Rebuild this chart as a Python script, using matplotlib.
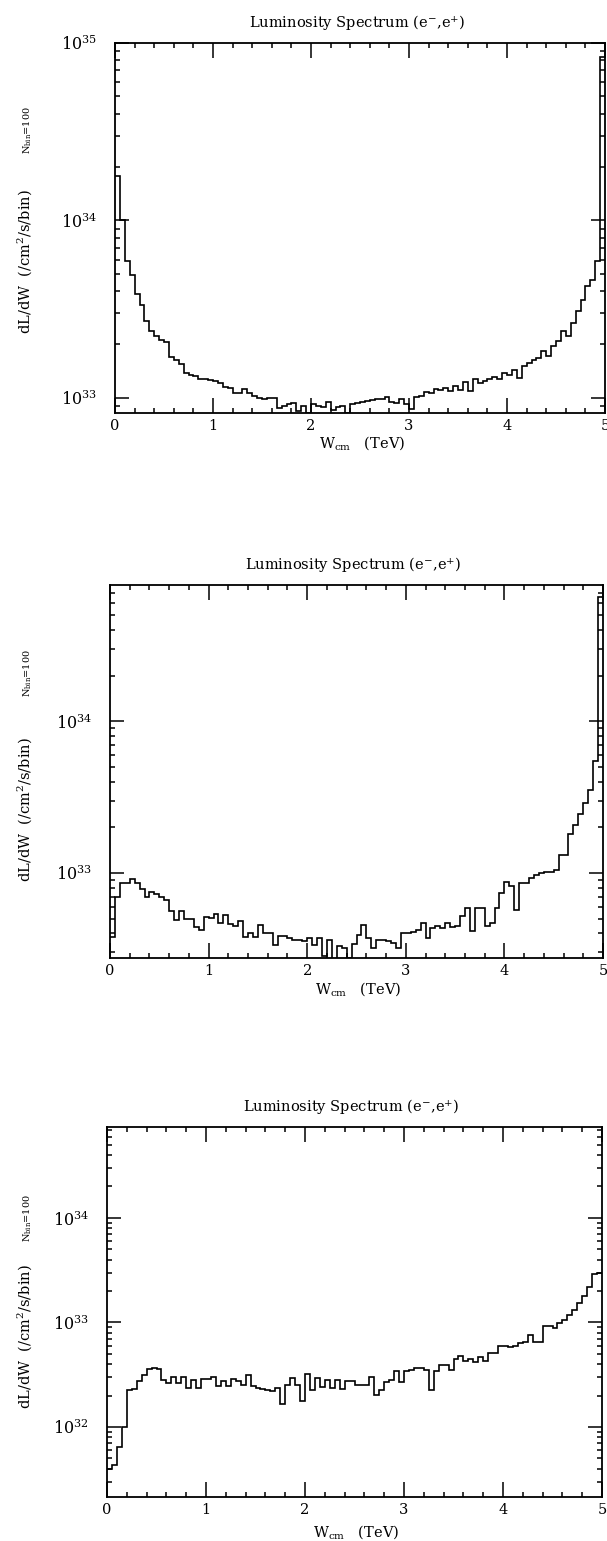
import numpy as np
import matplotlib
matplotlib.use("Agg")
from matplotlib import pyplot as plt
from matplotlib import ticker

W, H = 607, 1541

# bin edges in W_cm (TeV), 100 bins
edges = np.linspace(0, 5, 101)

# dL/dW per bin, in units of 1e33 /cm^2/s/bin
lum_top = [17.9, 10.0, 5.94, 4.92, 3.86, 3.35, 2.73, 2.37, 2.22, 2.13,
           2.07, 1.70, 1.64, 1.56, 1.38, 1.34, 1.33, 1.27, 1.28, 1.26,
           1.24, 1.21, 1.15, 1.13, 1.07, 1.07, 1.12, 1.07, 1.03, 1.00,
           0.98, 0.995, 1.00, 0.88, 0.90, 0.93, 0.935, 0.84, 0.905, 0.82,
           0.93, 0.90, 0.89, 0.945, 0.855, 0.89, 0.905, 0.82, 0.925, 0.935,
           0.953, 0.96, 0.975, 0.99, 0.98, 1.01, 0.945, 0.935, 0.98, 0.93,
           0.87, 1.01, 1.03, 1.08, 1.07, 1.12, 1.11, 1.13, 1.10, 1.17,
           1.11, 1.23, 1.10, 1.27, 1.21, 1.24, 1.28, 1.31, 1.27, 1.38,
           1.34, 1.43, 1.29, 1.52, 1.57, 1.63, 1.68, 1.83, 1.73, 1.95,
           2.08, 2.37, 2.24, 2.66, 3.07, 3.57, 4.25, 4.63, 5.94, 83.4]

lum_mid = [0.38, 0.70, 0.86, 0.86, 0.91, 0.86, 0.78, 0.70, 0.75, 0.73,
           0.70, 0.66, 0.56, 0.49, 0.56, 0.50, 0.50, 0.44, 0.42, 0.51,
           0.505, 0.54, 0.47, 0.53, 0.46, 0.445, 0.48, 0.38, 0.40, 0.38,
           0.456, 0.40, 0.40, 0.337, 0.386, 0.382, 0.373, 0.363, 0.363, 0.354,
           0.373, 0.337, 0.373, 0.282, 0.363, 0.268, 0.328, 0.320, 0.275, 0.342,
           0.392, 0.456, 0.373, 0.320, 0.363, 0.360, 0.354, 0.345, 0.320, 0.402,
           0.402, 0.406, 0.419, 0.468, 0.373, 0.434, 0.445, 0.434, 0.468, 0.440,
           0.445, 0.523, 0.588, 0.412, 0.588, 0.588, 0.445, 0.468, 0.588, 0.738,
           0.868, 0.817, 0.573, 0.859, 0.859, 0.927, 0.975, 1.00, 1.01, 1.01,
           1.05, 1.32, 1.32, 1.80, 2.08, 2.45, 2.89, 3.54, 5.5, 66.7]

lum_bot = [0.040, 0.043, 0.065, 0.101, 0.227, 0.230, 0.273, 0.316, 0.358, 0.366,
           0.358, 0.279, 0.263, 0.304, 0.263, 0.304, 0.235, 0.283, 0.235, 0.287,
           0.287, 0.300, 0.248, 0.273, 0.244, 0.287, 0.273, 0.253, 0.316, 0.244,
           0.235, 0.230, 0.227, 0.219, 0.235, 0.167, 0.253, 0.293, 0.253, 0.179,
           0.323, 0.224, 0.293, 0.240, 0.283, 0.235, 0.283, 0.230, 0.273, 0.273,
           0.253, 0.253, 0.253, 0.304, 0.203, 0.224, 0.267, 0.283, 0.340, 0.267,
           0.340, 0.347, 0.366, 0.366, 0.347, 0.224, 0.340, 0.394, 0.394, 0.347,
           0.446, 0.480, 0.424, 0.446, 0.414, 0.466, 0.424, 0.509, 0.509, 0.598,
           0.589, 0.577, 0.589, 0.634, 0.644, 0.762, 0.644, 0.644, 0.916, 0.916,
           0.883, 0.985, 1.06, 1.18, 1.32, 1.53, 1.80, 2.18, 2.92, 2.97]

# y range (log10) of each panel
ylims = [(32.915, 35.0), (32.44, 34.90), (31.33, 34.87)]

# axes boxes in pixels: left, right, top, bottom
boxes = [(115, 605, 43, 413), (110, 603, 585, 958), (107, 602, 1127, 1497)]
title_y = [23, 565, 1107]
xlab_y = [443, 989, 1532]
ylab_y = [262, 810, 1337]
nbin_y = [130, 673, 1218]

title = "Luminosity Spectrum (e$^{-}$,e$^{+}$)"
ylab = "dL/dW  (/cm$^{2}$/s/bin)"
xlab = "W$_{\\rm cm}$   (TeV)"
nbin = "N$_{\\rm bin}$=100"

plt.rcParams['font.family'] = ['DejaVu Serif']
plt.rcParams['mathtext.fontset'] = 'dejavuserif'

fig = plt.figure(figsize=(W/100, H/100), dpi=100)

for i, lum in enumerate([lum_top, lum_mid, lum_bot]):
    l, r, t, b = boxes[i]
    ax = fig.add_axes([l/W, 1 - b/H, (r - l)/W, (b - t)/H])
    ax.stairs(np.array(lum)*1e33, edges, color='k', lw=1.2, baseline=None)
    ax.set_yscale('log')
    ax.set_xlim(0, 5)
    ax.set_ylim(10**ylims[i][0], 10**ylims[i][1])
    ax.xaxis.set_major_locator(ticker.MultipleLocator(1))
    ax.xaxis.set_minor_locator(ticker.MultipleLocator(0.2))
    ax.yaxis.set_major_locator(ticker.LogLocator(base=10, numticks=10))
    ax.yaxis.set_minor_locator(ticker.LogLocator(base=10, subs=np.arange(2, 10), numticks=20))
    ax.yaxis.set_minor_formatter(ticker.NullFormatter())
    ax.tick_params(which='both', direction='in', top=True, right=True, width=1.1, colors='k')
    ax.tick_params(axis='x', which='major', length=11, pad=4, labelsize=10.5)
    ax.tick_params(axis='y', which='major', length=10, pad=13, labelsize=11.5)
    ax.tick_params(which='minor', length=3.5)
    for s in ax.spines.values():
        s.set_linewidth(1.3)

    xc = (l + r) / 2 / W
    fig.text(xc - 3/W, 1 - title_y[i]/H, title, ha='center', va='center', fontsize=10.5)
    fig.text(xc + 2/W, 1 - xlab_y[i]/H, xlab, ha='center', va='center', fontsize=10.5)
    fig.text(25/W, 1 - ylab_y[i]/H, ylab, ha='center', va='center', rotation=90, fontsize=10.5)
    fig.text(28/W, 1 - nbin_y[i]/H, nbin, ha='center', va='center', rotation=90, fontsize=7)

fig.savefig("out.png", dpi=100)
